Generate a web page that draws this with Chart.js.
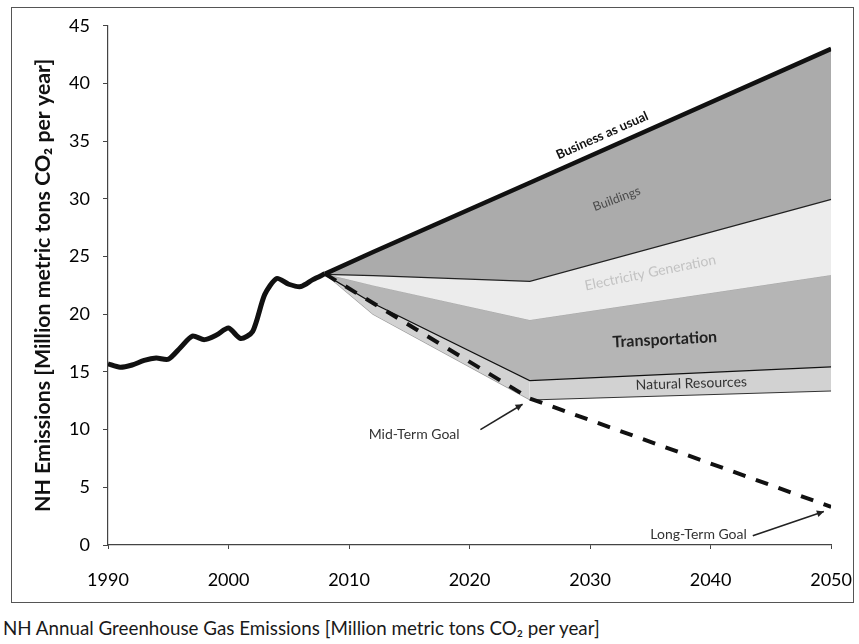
<!DOCTYPE html>
<html>
<head>
<meta charset="utf-8">
<script src="https://cdn.jsdelivr.net/npm/chart.js@4/dist/chart.umd.min.js"></script>
<style>
  html,body{margin:0;padding:0;background:#fff;}
  body{width:859px;height:644px;position:relative;overflow:hidden;font-family:Lato,"Open Sans",sans-serif;}
  #box{position:absolute;left:11px;top:7px;width:843px;height:596px;border:1px solid #555;box-sizing:border-box;}
  #wrap{position:absolute;left:0;top:-6px;width:860px;height:600px;}
  #caption{position:absolute;left:3px;top:617px;font-size:18.8px;line-height:22px;color:#1a1a1a;white-space:nowrap;}
</style>
</head>
<body>
<div id="box"><div id="wrap"><canvas id="c"></canvas></div></div>
<div id="caption">NH Annual Greenhouse Gas Emissions [Million metric tons CO₂ per year]</div>
<script>
// ---- data ----
const histYears = [1990,1991,1992,1993,1994,1995,1996,1997,1998,1999,2000,2001,2002,2003,2004,2005,2006,2007,2008];
const histValues = [15.7,15.4,15.6,16.0,16.2,16.1,17.1,18.1,17.8,18.2,18.8,17.9,18.5,21.7,23.1,22.6,22.4,23.0,23.5];

const projYears = [2008, 2012, 2025, 2050];
const businessAsUsual = [23.5, 25.4, 31.4, 43.0];
const buildingsLow    = [23.5, 23.4, 22.9, 30.0];
const electricityLow  = [23.5, 22.5, 19.5, 23.4];
const transportLow    = [23.5, 21.0, 14.3, 15.5];
const naturalResLow   = [23.5, 20.0, 12.6, 13.4];

const goalYears  = [2008, 2025, 2050];
const goalValues = [23.5, 12.7, 3.3];

const yTicks = [0,5,10,15,20,25,30,35,40,45];
const xTicks = [1990,2000,2010,2020,2030,2040,2050];

const pts = (xs, ys) => xs.map((v,i)=>({x:v, y:ys[i]}));

const FONT = 'Lato, "Open Sans", sans-serif';

const labelPlugin = {
  id: 'wedgeLabels',
  afterDatasetsDraw(chart){
    const {ctx, scales:{x, y}} = chart;
    const px = v => x.getPixelForValue(v), py = v => y.getPixelForValue(v);
    const ang = (x1,y1,x2,y2) => Math.atan2(py(y2)-py(y1), px(x2)-px(x1));
    function txt(s, yr, v, a, font, color){
      ctx.save();
      ctx.translate(px(yr), py(v));
      ctx.rotate(a);
      ctx.font = font;
      ctx.fillStyle = color;
      ctx.textAlign = 'center';
      ctx.textBaseline = 'middle';
      ctx.fillText(s, 0, 0);
      ctx.restore();
    }
    function arrow(x1,y1,x2,y2){
      const X1=px(x1),Y1=py(y1),X2=px(x2),Y2=py(y2);
      ctx.save();
      ctx.strokeStyle='#222'; ctx.fillStyle='#222'; ctx.lineWidth=1.6;
      ctx.beginPath(); ctx.moveTo(X1,Y1); ctx.lineTo(X2,Y2); ctx.stroke();
      const a=Math.atan2(Y2-Y1,X2-X1), L=7, W=3.5;
      ctx.beginPath();
      ctx.moveTo(X2,Y2);
      ctx.lineTo(X2-L*Math.cos(a)+W*Math.sin(a), Y2-L*Math.sin(a)-W*Math.cos(a));
      ctx.lineTo(X2-L*Math.cos(a)-W*Math.sin(a), Y2-L*Math.sin(a)+W*Math.cos(a));
      ctx.closePath(); ctx.fill();
      ctx.restore();
    }
    const aBau = ang(2008,23.5,2050,43.0);
    txt('Business as usual', 2031.0, 35.5, aBau, 'bold 13px '+FONT, '#111');
    txt('Buildings', 2032.2, 30.0, aBau*0.85, '12.5px '+FONT, '#4a4a4a');
    txt('Electricity Generation', 2035.0, 23.6, -0.2, '14px '+FONT, '#c2c2c2');
    txt('Transportation', 2036.2, 17.8, -0.05, 'bold 16px '+FONT, '#222');
    txt('Natural Resources', 2038.4, 14.0, -0.03, '14px '+FONT, '#333');
    txt('Mid-Term Goal', 2015.4, 9.6, 0, '14px '+FONT, '#333');
    txt('Long-Term Goal', 2039.0, 0.9, 0, '14px '+FONT, '#333');
    arrow(2020.9, 10.0, 2024.4, 12.2);
    arrow(2043.5, 0.8, 2049.4, 2.9);
  }
};

new Chart(document.getElementById('c'), {
  type: 'line',
  data: {
    datasets: [
      { label:'Business as usual', data: pts(projYears, businessAsUsual), borderColor:'#111', borderWidth:4.5,
        backgroundColor:'#ababab', fill:'+1', pointRadius:0, order:5 },
      { label:'Buildings', data: pts(projYears, buildingsLow), borderColor:'#222', borderWidth:2.5,
        backgroundColor:'#ececec', fill:'+1', pointRadius:0, order:5 },
      { label:'Electricity Generation', data: pts(projYears, electricityLow), borderColor:'#a8a8a8', borderWidth:1,
        backgroundColor:'#b5b5b5', fill:'+1', pointRadius:0, order:5 },
      { label:'Transportation', data: pts(projYears, transportLow), borderColor:'#111', borderWidth:2.5,
        backgroundColor:'#d2d2d2', fill:'+1', pointRadius:0, order:5 },
      { label:'Natural Resources', data: pts(projYears, naturalResLow), borderColor:'#333', borderWidth:2,
        segment:{ borderColor: c => c.p0.parsed.x < 2025 ? '#9a9a9a' : '#333', borderWidth: c => c.p0.parsed.x < 2025 ? 1.2 : 2 },
        backgroundColor:'transparent', fill:false, pointRadius:0, order:5 },
      { label:'Goal', data: pts(goalYears, goalValues), borderColor:'#111', borderWidth:4,
        borderDash:[13,11], fill:false, pointRadius:0, order:2 },
      { label:'Historical', data: pts(histYears, histValues), borderColor:'#111', borderWidth:5,
        fill:false, pointRadius:0, tension:0.25, order:1 }
    ]
  },
  options: {
    responsive: true,
    maintainAspectRatio: false,
    animation: false,
    layout: { padding: { top: 11, right: 2, bottom: 0, left: 0 } },
    plugins: { legend:{display:false}, tooltip:{enabled:false} },
    scales: {
      x: {
        type:'linear', min:1990, max:2050,
        afterBuildTicks: s => { s.ticks = xTicks.map(v=>({value:v})); },
        grid:{ display:true, drawOnChartArea:false, tickLength:4, color:'#444' },
        border:{ color:'#444', width:1.2 },
        ticks:{ font:{ family:FONT, size:18 }, color:'#000', padding:20, maxRotation:0,
          callback: v => String(v) },
        afterFit: s => { s.height = 57; }
      },
      y: {
        min:0, max:45,
        afterBuildTicks: s => { s.ticks = yTicks.map(v=>({value:v})); },
        grid:{ display:true, drawOnChartArea:false, tickLength:5, color:'#444' },
        border:{ color:'#444', width:1.2 },
        ticks:{ font:{ family:FONT, size:18 }, color:'#000', padding:13 },
        title:{ display:true, text:'NH Emissions [Million metric tons CO₂ per year]',
          font:{ family:FONT, size:21.3, weight:'bold' }, color:'#111', padding:{top:18,bottom:4} },
        afterFit: s => { s.width = 96; }
      }
    }
  },
  plugins: [labelPlugin]
});
</script>
</body>
</html>
